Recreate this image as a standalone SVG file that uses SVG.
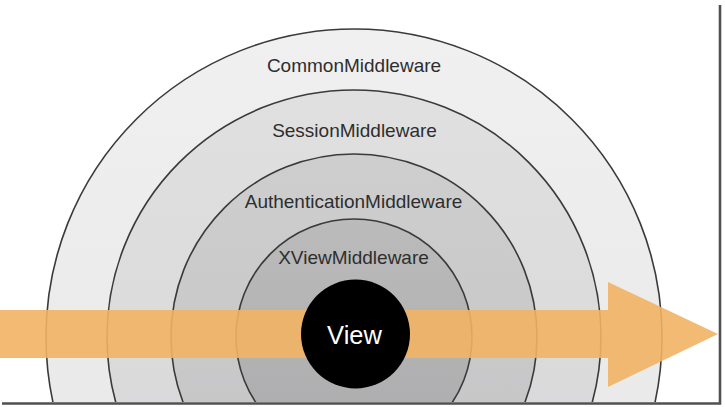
<svg xmlns="http://www.w3.org/2000/svg" width="725" height="407" viewBox="0 0 725 407">
  <style>
    .ring { stroke: #3a3a3a; stroke-width: 1.6; }
    .lbl { font-family: "Liberation Sans", Arial, Helvetica, sans-serif; font-size: 19px; fill: #2e2e2e; text-anchor: middle; }
    .view { font-family: "Liberation Sans", Arial, Helvetica, sans-serif; font-size: 25.5px; fill: #ffffff; text-anchor: middle; }
    .arrow { fill: #F2B264; fill-opacity: 0.9; }
    .frame { stroke: #505050; stroke-width: 2.6; fill: none; }
  </style>
  <defs>
    <clipPath id="clip">
      <rect x="0" y="0" width="719" height="402"/>
    </clipPath>
    <linearGradient id="g1" x1="0" y1="0" x2="0" y2="1">
      <stop offset="0" stop-color="#F0F0F0"/>
      <stop offset="1" stop-color="#E6E6E8"/>
    </linearGradient>
    <linearGradient id="g2" x1="0" y1="0" x2="0" y2="1">
      <stop offset="0" stop-color="#E0E0E0"/>
      <stop offset="1" stop-color="#D6D6D8"/>
    </linearGradient>
    <linearGradient id="g3" x1="0" y1="0" x2="0" y2="1">
      <stop offset="0" stop-color="#CECECE"/>
      <stop offset="1" stop-color="#C4C4C6"/>
    </linearGradient>
    <linearGradient id="g4" x1="0" y1="0" x2="0" y2="1">
      <stop offset="0" stop-color="#BBBBBB"/>
      <stop offset="1" stop-color="#ABABAD"/>
    </linearGradient>
  </defs>
  <rect x="0" y="0" width="725" height="407" fill="#ffffff"/>
  <g clip-path="url(#clip)">
    <g id="common-middleware">
      <circle class="ring" cx="354" cy="337" r="308" fill="url(#g1)"/>
      <text class="lbl" x="354" y="72">CommonMiddleware</text>
    </g>
    <g id="session-middleware">
      <circle class="ring" cx="354" cy="337" r="247" fill="url(#g2)"/>
      <text class="lbl" x="354.5" y="137">SessionMiddleware</text>
    </g>
    <g id="authentication-middleware">
      <circle class="ring" cx="354" cy="337" r="183" fill="url(#g3)"/>
      <text class="lbl" x="353.5" y="208">AuthenticationMiddleware</text>
    </g>
    <g id="xview-middleware">
      <circle class="ring" cx="354" cy="337" r="118" fill="url(#g4)"/>
      <text class="lbl" x="353.5" y="264">XViewMiddleware</text>
    </g>
    <g id="connectors">
      <path class="arrow" d="M0,310 H608 V282 L718,334 L608,387 V358 H0 Z"/>
    </g>
    <g id="view">
      <circle cx="355.5" cy="334" r="54.5" fill="#000000"/>
      <text class="view" x="354.5" y="344">View</text>
    </g>
  </g>
  <path class="frame" d="M720,5 V403.5 H2"/>
</svg>
